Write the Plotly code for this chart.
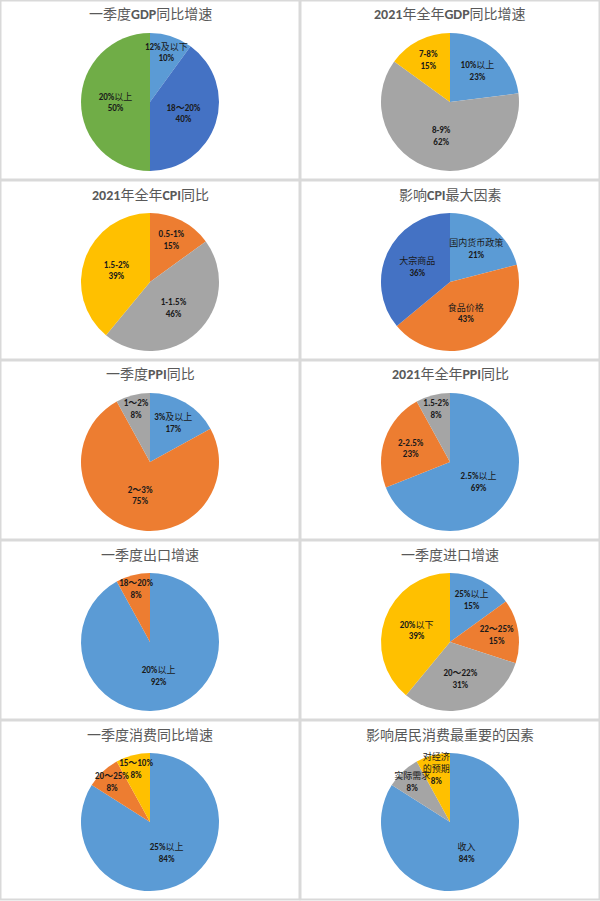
import re
import plotly.graph_objects as go

W, H = 600, 901

BLUE = '#5B9BD5'
ORANGE = '#ED7D31'
GRAY = '#A5A5A5'
YELLOW = '#FFC000'
DBLUE = '#4472C4'
GREEN = '#70AD47'

# data for each panel (row by row, left then right)
titles = [
    '一季度GDP同比增速', '2021年全年GDP同比增速',
    '2021年全年CPI同比', '影响CPI最大因素',
    '一季度PPI同比', '2021年全年PPI同比',
    '一季度出口增速', '一季度进口增速',
    '一季度消费同比增速', '影响居民消费最重要的因素',
]

gdp_q1_labels = ['12%及以下', '18～20%', '20%以上']
gdp_q1_values = [10, 40, 50]

gdp_year_labels = ['10%以上', '8-9%', '7-8%']
gdp_year_values = [23, 62, 15]

cpi_year_labels = ['0.5-1%', '1-1.5%', '1.5-2%']
cpi_year_values = [15, 46, 39]

cpi_factor_labels = ['国内货币政策', '食品价格', '大宗商品']
cpi_factor_values = [21, 43, 36]

ppi_q1_labels = ['3%及以上', '2～3%', '1～2%']
ppi_q1_values = [17, 75, 8]

ppi_year_labels = ['2.5%以上', '2-2.5%', '1.5-2%']
ppi_year_values = [69, 23, 8]

export_labels = ['20%以上', '18～20%']
export_values = [92, 8]

import_labels = ['25%以上', '22～25%', '20～22%', '20%以下']
import_values = [15, 15, 31, 39]

consume_labels = ['25%以上', '20～25%', '15～10%']
consume_values = [84, 8, 8]

consume_factor_labels = ['收入', '实际需求', '对经济<br>的预期']
consume_factor_values = [84, 8, 8]

panels = [
    (gdp_q1_labels, gdp_q1_values, [BLUE, DBLUE, GREEN]),
    (gdp_year_labels, gdp_year_values, [BLUE, GRAY, YELLOW]),
    (cpi_year_labels, cpi_year_values, [ORANGE, GRAY, YELLOW]),
    (cpi_factor_labels, cpi_factor_values, [BLUE, ORANGE, DBLUE]),
    (ppi_q1_labels, ppi_q1_values, [BLUE, ORANGE, GRAY]),
    (ppi_year_labels, ppi_year_values, [BLUE, ORANGE, GRAY]),
    (export_labels, export_values, [BLUE, ORANGE]),
    (import_labels, import_values, [BLUE, ORANGE, GRAY, YELLOW]),
    (consume_labels, consume_values, [BLUE, ORANGE, YELLOW]),
    (consume_factor_labels, consume_factor_values, [BLUE, GRAY, YELLOW]),
]

FONT = 'Calibri, Carlito, "Noto Sans CJK SC", sans-serif'


def bold_latin(s):
    # latin letters and digits are bold in the original, chinese is not
    parts = s.split('<br>')
    parts = [re.sub(r'([0-9A-Za-z.%\-～]+)', r'<b>\1</b>', p) for p in parts]
    return '<br>'.join(parts)


fig = go.Figure()
shapes = []
annotations = []

for i, (labels, values, colors) in enumerate(panels):
    r, c = divmod(i, 2)
    x0 = c * 300
    y0 = r * 180
    cx, cy, rad = x0 + 150, y0 + 102, 69
    dom = dict(x=[(cx - rad) / W, (cx + rad) / W],
               y=[1 - (cy + rad) / H, 1 - (cy - rad) / H])

    # slices
    fig.add_trace(go.Pie(
        labels=labels, values=values, sort=False,
        direction='clockwise', rotation=0,
        marker=dict(colors=colors, line=dict(color='white', width=0)),
        textinfo='none', showlegend=False,
        hoverinfo='label+value', domain=dom,
    ))
    # labels on a transparent copy so no slice paints over them
    fig.add_trace(go.Pie(
        labels=labels, values=values, sort=False,
        direction='clockwise', rotation=0,
        marker=dict(colors=['rgba(0,0,0,0)'] * len(values), line=dict(width=0)),
        text=[bold_latin(l) + '<br><b>%d%%</b>' % v for l, v in zip(labels, values)],
        texttemplate='%{text}',
        textposition='inside',
        insidetextorientation='horizontal',
        textfont=dict(size=9, color='#1a1a1a', family=FONT),
        showlegend=False, hoverinfo='skip', domain=dom,
    ))

    annotations.append(dict(
        text=bold_latin(titles[i]), x=(x0 + 150) / W, y=1 - (y0 + 15) / H,
        xref='paper', yref='paper', showarrow=False,
        font=dict(size=14, color='#595959', family=FONT),
        xanchor='center', yanchor='middle',
    ))

    shapes.append(dict(
        type='rect', xref='paper', yref='paper',
        x0=(x0 + 0.5) / W, x1=(x0 + 299.5) / W,
        y0=1 - (y0 + 179.5 if r < 4 else 899.5) / H, y1=1 - (y0 + 0.5) / H,
        line=dict(color='#D9D9D9', width=2),
    ))

fig.update_layout(
    width=W, height=H,
    margin=dict(l=0, r=0, t=0, b=0),
    paper_bgcolor='white',
    plot_bgcolor='white',
    shapes=shapes,
    annotations=annotations,
    uniformtext=dict(minsize=9, mode='show'),
)

# drop the default page margin so the figure sits at the window corner
fig.write_html('out.html', config={'displayModeBar': False},
               post_script="document.body.style.margin='0';document.body.style.overflow='hidden';")
